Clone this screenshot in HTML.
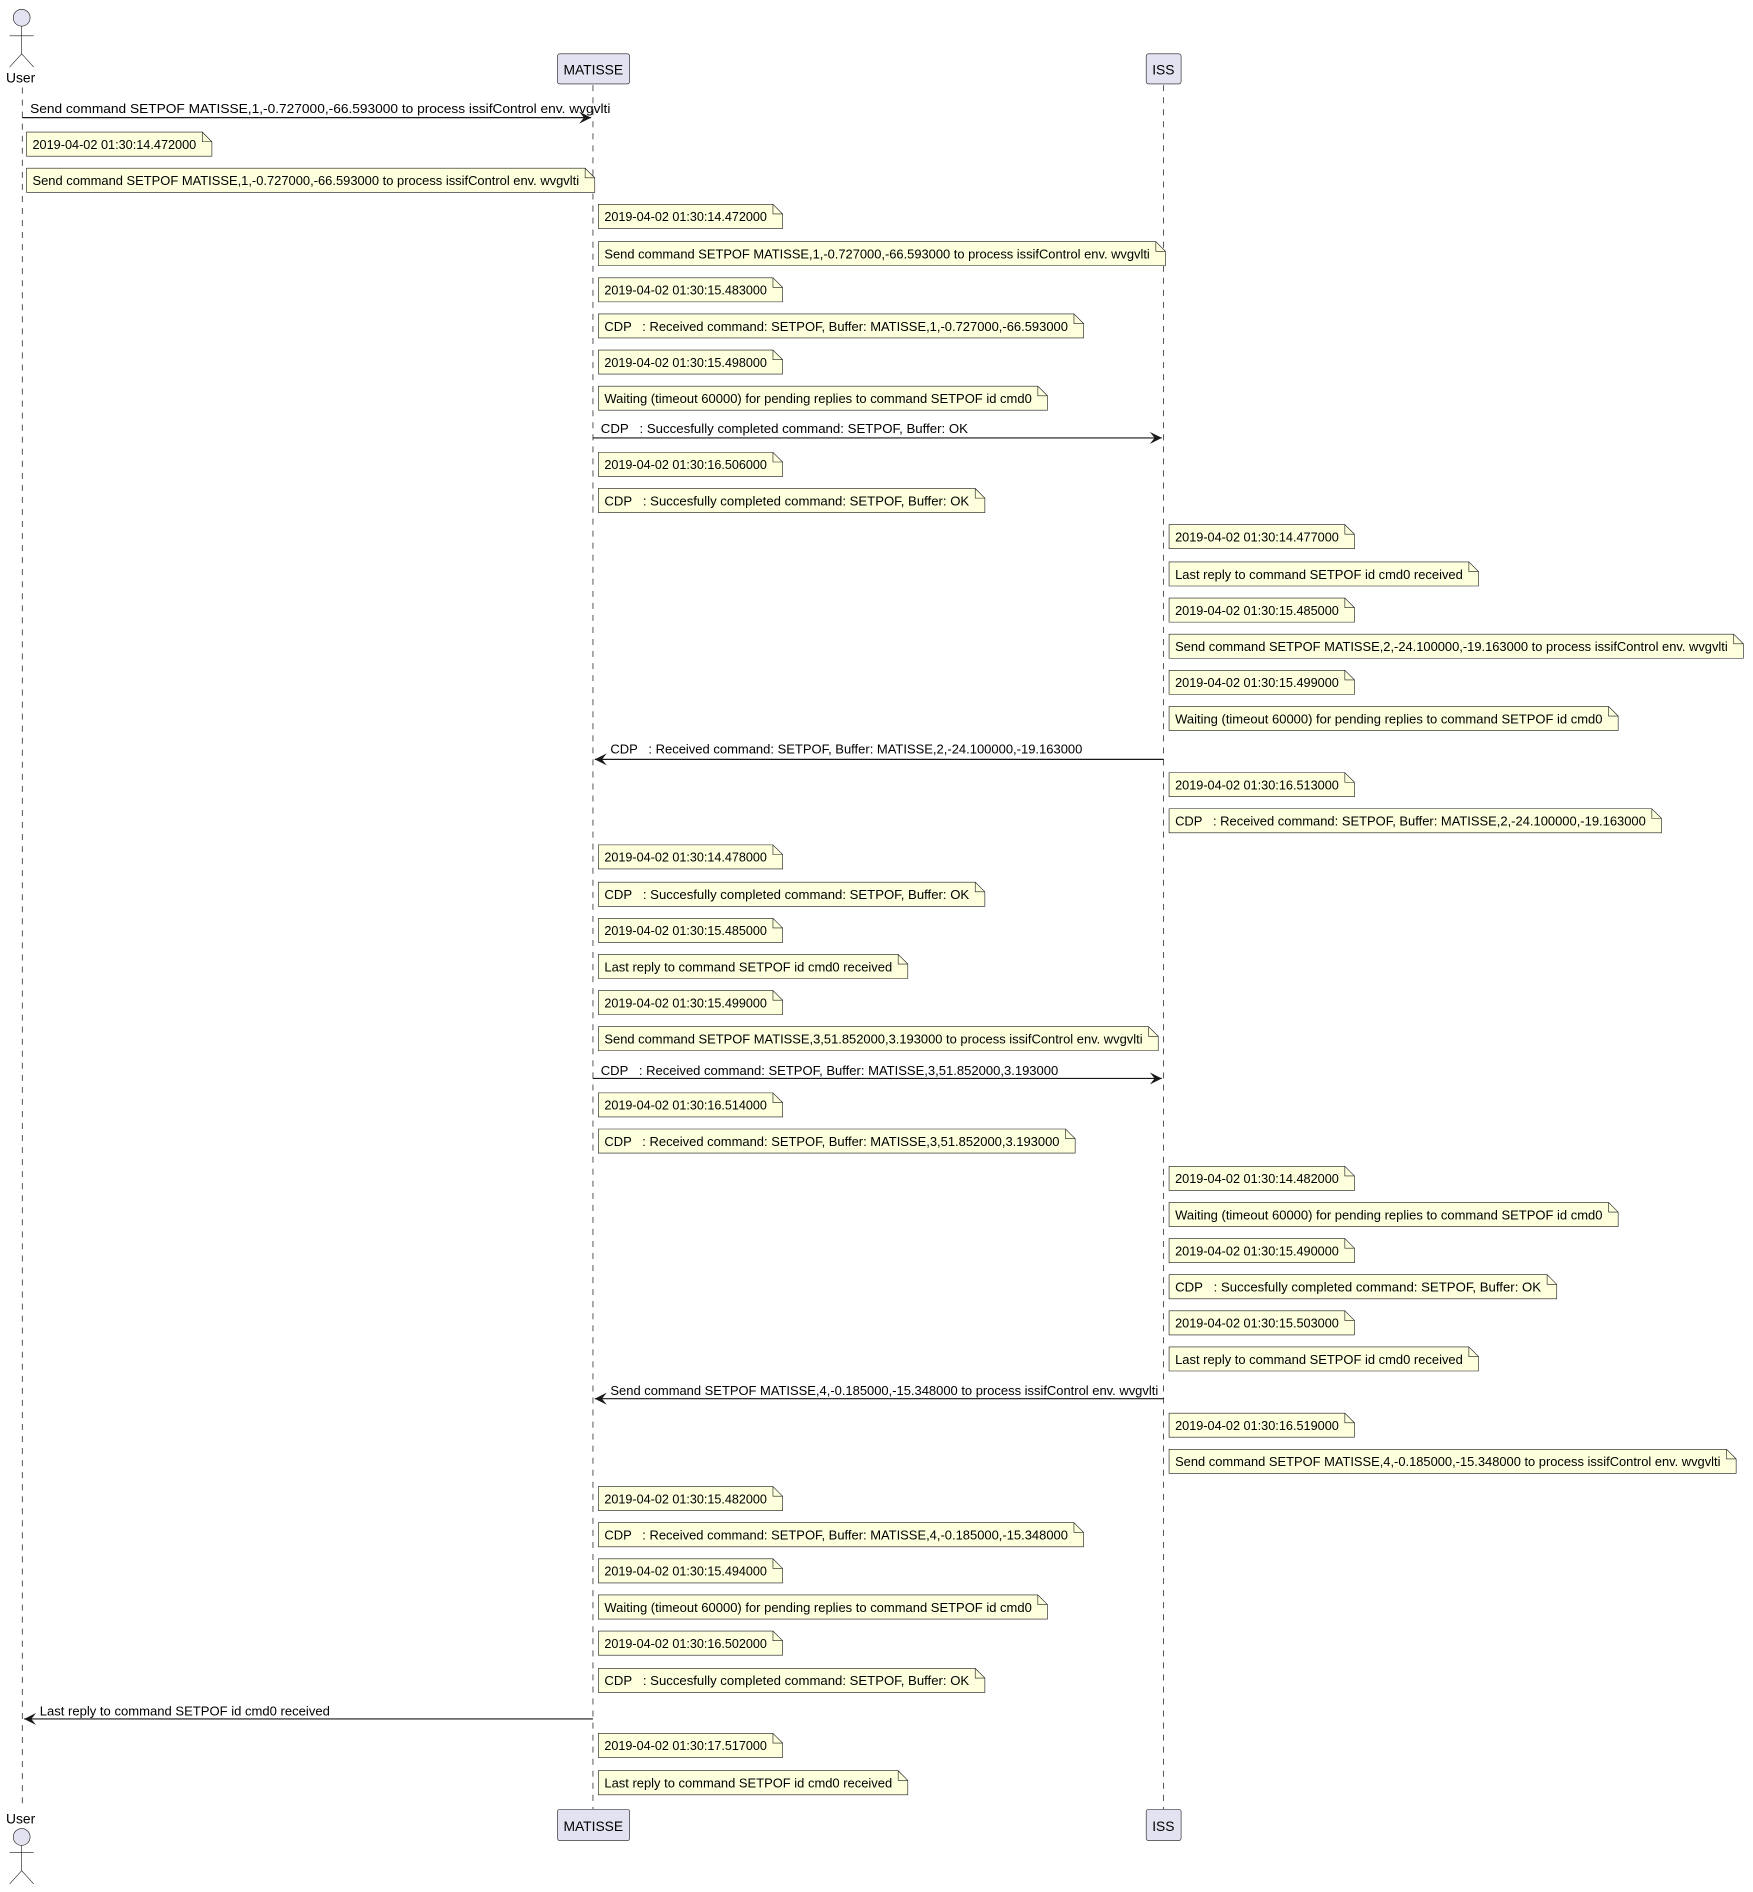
<!DOCTYPE html>
<html><head><meta charset="utf-8"><style>
html,body{margin:0;padding:0;background:#fff}
svg{display:block}
text{font-family:"Liberation Sans",sans-serif;font-size:10.5px;fill:#000;white-space:pre}
.n{fill:#FEFFDD;stroke:#181818;stroke-width:.5}
.f{fill:none;stroke:#181818;stroke-width:.5}
.ll{stroke:#181818;stroke-width:.6;stroke-dasharray:5,5}
.ar{stroke:#181818;stroke-width:1}
.p{fill:#E2E2F0;stroke:#181818;stroke-width:.5}
</style></head><body>
<svg width="1753" height="1892" viewBox="0 0 1456 1566" xmlns="http://www.w3.org/2000/svg">
<defs>
<marker id="a" viewBox="0 0 10 10" refX="10" refY="5" markerWidth="10" markerHeight="10" markerUnits="userSpaceOnUse" orient="auto"><path d="M0,0 L10,5 L0,10 L4,5 z" fill="#181818"/></marker>
</defs>
<line class="ll" x1="18.5" y1="70" x2="18.5" y2="1500"/>
<line class="ll" x1="492.5" y1="68" x2="492.5" y2="1500"/>
<line class="ll" x1="966.5" y1="68" x2="966.5" y2="1500"/>
<!-- top actor -->
<circle cx="18" cy="12" r="7" class="p"/>
<path d="M18,19 V42 M8,27 H28 M18,42 L8,53 M18,42 L28,53" class="f" stroke-width="0.8"/>
<text x="5" y="66" style="font-size:11.5px">User</text>
<rect x="463" y="42" width="60" height="25" rx="2" class="p"/><text x="468" y="59" style="font-size:11.5px">MATISSE</text>
<rect x="952" y="42" width="29" height="25" rx="2" class="p"/><text x="957" y="59" style="font-size:11.5px">ISS</text>
<!-- bottom -->
<text x="5" y="1512" style="font-size:11.5px">User</text>
<circle cx="18" cy="1523" r="7" class="p"/>
<path d="M18,1530 V1551 M8,1536 H28 M18,1551 L8,1562 M18,1551 L28,1562" class="f" stroke-width="0.8"/>
<rect x="463" y="1500" width="60" height="26" rx="2" class="p"/><text x="468" y="1518" style="font-size:11.5px">MATISSE</text>
<rect x="952" y="1500" width="29" height="26" rx="2" class="p"/><text x="957" y="1518" style="font-size:11.5px">ISS</text>

<!-- arrows -->
<line class="ar" x1="18.5" y1="95" x2="491" y2="95" marker-end="url(#a)"/>
<text x="25" y="91" textLength="482" lengthAdjust="spacingAndGlyphs">Send command SETPOF MATISSE,1,-0.727000,-66.593000 to process issifControl env. wvgvlti</text>
<line class="ar" x1="492.5" y1="361" x2="965" y2="361" marker-end="url(#a)"/>
<text x="499" y="357" textLength="305" lengthAdjust="spacingAndGlyphs">CDP   : Succesfully completed command: SETPOF, Buffer: OK</text>
<line class="ar" x1="966.5" y1="628" x2="494" y2="628" marker-end="url(#a)"/>
<text x="507" y="623" textLength="392" lengthAdjust="spacingAndGlyphs">CDP   : Received command: SETPOF, Buffer: MATISSE,2,-24.100000,-19.163000</text>
<line class="ar" x1="492.5" y1="893" x2="965" y2="893" marker-end="url(#a)"/>
<text x="499" y="890" textLength="380" lengthAdjust="spacingAndGlyphs">CDP   : Received command: SETPOF, Buffer: MATISSE,3,51.852000,3.193000</text>
<line class="ar" x1="966.5" y1="1159" x2="494" y2="1159" marker-end="url(#a)"/>
<text x="507" y="1156" textLength="455" lengthAdjust="spacingAndGlyphs">Send command SETPOF MATISSE,4,-0.185000,-15.348000 to process issifControl env. wvgvlti</text>
<line class="ar" x1="492.5" y1="1425" x2="20" y2="1425" marker-end="url(#a)"/>
<text x="33" y="1422" textLength="241" lengthAdjust="spacingAndGlyphs">Last reply to command SETPOF id cmd0 received</text>

<!-- notes: User -->
<g transform="translate(22,107)"><path class="n" d="M0,0 H146 L154,8 V20 H0 Z"/><path class="f" d="M146,0 V8 H154"/><text x="5" y="14" textLength="136" lengthAdjust="spacingAndGlyphs">2019-04-02 01:30:14.472000</text></g>
<g transform="translate(22,137)"><path class="n" d="M0,0 H464 L472,8 V20 H0 Z"/><path class="f" d="M464,0 V8 H472"/><text x="5" y="14" textLength="454" lengthAdjust="spacingAndGlyphs">Send command SETPOF MATISSE,1,-0.727000,-66.593000 to process issifControl env. wvgvlti</text></g>

<!-- MATISSE notes group 1 -->
<g transform="translate(497,167)"><path class="n" d="M0,0 H145 L153,8 V20 H0 Z"/><path class="f" d="M145,0 V8 H153"/><text x="5" y="14" textLength="135" lengthAdjust="spacingAndGlyphs">2019-04-02 01:30:14.472000</text></g>
<g transform="translate(497,198)"><path class="n" d="M0,0 H463 L471,8 V20 H0 Z"/><path class="f" d="M463,0 V8 H471"/><text x="5" y="14" textLength="453" lengthAdjust="spacingAndGlyphs">Send command SETPOF MATISSE,1,-0.727000,-66.593000 to process issifControl env. wvgvlti</text></g>
<g transform="translate(497,228)"><path class="n" d="M0,0 H145 L153,8 V20 H0 Z"/><path class="f" d="M145,0 V8 H153"/><text x="5" y="14" textLength="135" lengthAdjust="spacingAndGlyphs">2019-04-02 01:30:15.483000</text></g>
<g transform="translate(497,258)"><path class="n" d="M0,0 H395 L403,8 V20 H0 Z"/><path class="f" d="M395,0 V8 H403"/><text x="5" y="14" textLength="385" lengthAdjust="spacingAndGlyphs">CDP   : Received command: SETPOF, Buffer: MATISSE,1,-0.727000,-66.593000</text></g>
<g transform="translate(497,288)"><path class="n" d="M0,0 H145 L153,8 V20 H0 Z"/><path class="f" d="M145,0 V8 H153"/><text x="5" y="14" textLength="135" lengthAdjust="spacingAndGlyphs">2019-04-02 01:30:15.498000</text></g>
<g transform="translate(497,318)"><path class="n" d="M0,0 H365 L373,8 V20 H0 Z"/><path class="f" d="M365,0 V8 H373"/><text x="5" y="14" textLength="355" lengthAdjust="spacingAndGlyphs">Waiting (timeout 60000) for pending replies to command SETPOF id cmd0</text></g>
<g transform="translate(497,373)"><path class="n" d="M0,0 H145 L153,8 V20 H0 Z"/><path class="f" d="M145,0 V8 H153"/><text x="5" y="14" textLength="135" lengthAdjust="spacingAndGlyphs">2019-04-02 01:30:16.506000</text></g>
<g transform="translate(497,403)"><path class="n" d="M0,0 H313 L321,8 V20 H0 Z"/><path class="f" d="M313,0 V8 H321"/><text x="5" y="14" textLength="303" lengthAdjust="spacingAndGlyphs">CDP   : Succesfully completed command: SETPOF, Buffer: OK</text></g>

<!-- ISS group 1 -->
<g transform="translate(971,433)"><path class="n" d="M0,0 H146 L154,8 V20 H0 Z"/><path class="f" d="M146,0 V8 H154"/><text x="5" y="14" textLength="136" lengthAdjust="spacingAndGlyphs">2019-04-02 01:30:14.477000</text></g>
<g transform="translate(971,464)"><path class="n" d="M0,0 H249 L257,8 V20 H0 Z"/><path class="f" d="M249,0 V8 H257"/><text x="5" y="14" textLength="239" lengthAdjust="spacingAndGlyphs">Last reply to command SETPOF id cmd0 received</text></g>
<g transform="translate(971,494)"><path class="n" d="M0,0 H146 L154,8 V20 H0 Z"/><path class="f" d="M146,0 V8 H154"/><text x="5" y="14" textLength="136" lengthAdjust="spacingAndGlyphs">2019-04-02 01:30:15.485000</text></g>
<g transform="translate(971,524)"><path class="n" d="M0,0 H469 L477,8 V20 H0 Z"/><path class="f" d="M469,0 V8 H477"/><text x="5" y="14" textLength="459" lengthAdjust="spacingAndGlyphs">Send command SETPOF MATISSE,2,-24.100000,-19.163000 to process issifControl env. wvgvlti</text></g>
<g transform="translate(971,554)"><path class="n" d="M0,0 H146 L154,8 V20 H0 Z"/><path class="f" d="M146,0 V8 H154"/><text x="5" y="14" textLength="136" lengthAdjust="spacingAndGlyphs">2019-04-02 01:30:15.499000</text></g>
<g transform="translate(971,584)"><path class="n" d="M0,0 H365 L373,8 V20 H0 Z"/><path class="f" d="M365,0 V8 H373"/><text x="5" y="14" textLength="355" lengthAdjust="spacingAndGlyphs">Waiting (timeout 60000) for pending replies to command SETPOF id cmd0</text></g>
<g transform="translate(971,639)"><path class="n" d="M0,0 H146 L154,8 V20 H0 Z"/><path class="f" d="M146,0 V8 H154"/><text x="5" y="14" textLength="136" lengthAdjust="spacingAndGlyphs">2019-04-02 01:30:16.513000</text></g>
<g transform="translate(971,669)"><path class="n" d="M0,0 H401 L409,8 V20 H0 Z"/><path class="f" d="M401,0 V8 H409"/><text x="5" y="14" textLength="391" lengthAdjust="spacingAndGlyphs">CDP   : Received command: SETPOF, Buffer: MATISSE,2,-24.100000,-19.163000</text></g>

<!-- MATISSE group 2 -->
<g transform="translate(497,699)"><path class="n" d="M0,0 H145 L153,8 V20 H0 Z"/><path class="f" d="M145,0 V8 H153"/><text x="5" y="14" textLength="135" lengthAdjust="spacingAndGlyphs">2019-04-02 01:30:14.478000</text></g>
<g transform="translate(497,730)"><path class="n" d="M0,0 H313 L321,8 V20 H0 Z"/><path class="f" d="M313,0 V8 H321"/><text x="5" y="14" textLength="303" lengthAdjust="spacingAndGlyphs">CDP   : Succesfully completed command: SETPOF, Buffer: OK</text></g>
<g transform="translate(497,760)"><path class="n" d="M0,0 H145 L153,8 V20 H0 Z"/><path class="f" d="M145,0 V8 H153"/><text x="5" y="14" textLength="135" lengthAdjust="spacingAndGlyphs">2019-04-02 01:30:15.485000</text></g>
<g transform="translate(497,790)"><path class="n" d="M0,0 H249 L257,8 V20 H0 Z"/><path class="f" d="M249,0 V8 H257"/><text x="5" y="14" textLength="239" lengthAdjust="spacingAndGlyphs">Last reply to command SETPOF id cmd0 received</text></g>
<g transform="translate(497,820)"><path class="n" d="M0,0 H145 L153,8 V20 H0 Z"/><path class="f" d="M145,0 V8 H153"/><text x="5" y="14" textLength="135" lengthAdjust="spacingAndGlyphs">2019-04-02 01:30:15.499000</text></g>
<g transform="translate(497,850)"><path class="n" d="M0,0 H457 L465,8 V20 H0 Z"/><path class="f" d="M457,0 V8 H465"/><text x="5" y="14" textLength="447" lengthAdjust="spacingAndGlyphs">Send command SETPOF MATISSE,3,51.852000,3.193000 to process issifControl env. wvgvlti</text></g>
<g transform="translate(497,905)"><path class="n" d="M0,0 H145 L153,8 V20 H0 Z"/><path class="f" d="M145,0 V8 H153"/><text x="5" y="14" textLength="135" lengthAdjust="spacingAndGlyphs">2019-04-02 01:30:16.514000</text></g>
<g transform="translate(497,935)"><path class="n" d="M0,0 H388 L396,8 V20 H0 Z"/><path class="f" d="M388,0 V8 H396"/><text x="5" y="14" textLength="378" lengthAdjust="spacingAndGlyphs">CDP   : Received command: SETPOF, Buffer: MATISSE,3,51.852000,3.193000</text></g>

<!-- ISS group 2 -->
<g transform="translate(971,966)"><path class="n" d="M0,0 H146 L154,8 V20 H0 Z"/><path class="f" d="M146,0 V8 H154"/><text x="5" y="14" textLength="136" lengthAdjust="spacingAndGlyphs">2019-04-02 01:30:14.482000</text></g>
<g transform="translate(971,996)"><path class="n" d="M0,0 H365 L373,8 V20 H0 Z"/><path class="f" d="M365,0 V8 H373"/><text x="5" y="14" textLength="355" lengthAdjust="spacingAndGlyphs">Waiting (timeout 60000) for pending replies to command SETPOF id cmd0</text></g>
<g transform="translate(971,1026)"><path class="n" d="M0,0 H146 L154,8 V20 H0 Z"/><path class="f" d="M146,0 V8 H154"/><text x="5" y="14" textLength="136" lengthAdjust="spacingAndGlyphs">2019-04-02 01:30:15.490000</text></g>
<g transform="translate(971,1056)"><path class="n" d="M0,0 H314 L322,8 V20 H0 Z"/><path class="f" d="M314,0 V8 H322"/><text x="5" y="14" textLength="304" lengthAdjust="spacingAndGlyphs">CDP   : Succesfully completed command: SETPOF, Buffer: OK</text></g>
<g transform="translate(971,1086)"><path class="n" d="M0,0 H146 L154,8 V20 H0 Z"/><path class="f" d="M146,0 V8 H154"/><text x="5" y="14" textLength="136" lengthAdjust="spacingAndGlyphs">2019-04-02 01:30:15.503000</text></g>
<g transform="translate(971,1116)"><path class="n" d="M0,0 H249 L257,8 V20 H0 Z"/><path class="f" d="M249,0 V8 H257"/><text x="5" y="14" textLength="239" lengthAdjust="spacingAndGlyphs">Last reply to command SETPOF id cmd0 received</text></g>
<g transform="translate(971,1171)"><path class="n" d="M0,0 H146 L154,8 V20 H0 Z"/><path class="f" d="M146,0 V8 H154"/><text x="5" y="14" textLength="136" lengthAdjust="spacingAndGlyphs">2019-04-02 01:30:16.519000</text></g>
<g transform="translate(971,1201)"><path class="n" d="M0,0 H463 L471,8 V20 H0 Z"/><path class="f" d="M463,0 V8 H471"/><text x="5" y="14" textLength="453" lengthAdjust="spacingAndGlyphs">Send command SETPOF MATISSE,4,-0.185000,-15.348000 to process issifControl env. wvgvlti</text></g>

<!-- MATISSE group 3 -->
<g transform="translate(497,1232)"><path class="n" d="M0,0 H145 L153,8 V20 H0 Z"/><path class="f" d="M145,0 V8 H153"/><text x="5" y="14" textLength="135" lengthAdjust="spacingAndGlyphs">2019-04-02 01:30:15.482000</text></g>
<g transform="translate(497,1262)"><path class="n" d="M0,0 H395 L403,8 V20 H0 Z"/><path class="f" d="M395,0 V8 H403"/><text x="5" y="14" textLength="385" lengthAdjust="spacingAndGlyphs">CDP   : Received command: SETPOF, Buffer: MATISSE,4,-0.185000,-15.348000</text></g>
<g transform="translate(497,1292)"><path class="n" d="M0,0 H145 L153,8 V20 H0 Z"/><path class="f" d="M145,0 V8 H153"/><text x="5" y="14" textLength="135" lengthAdjust="spacingAndGlyphs">2019-04-02 01:30:15.494000</text></g>
<g transform="translate(497,1322)"><path class="n" d="M0,0 H365 L373,8 V20 H0 Z"/><path class="f" d="M365,0 V8 H373"/><text x="5" y="14" textLength="355" lengthAdjust="spacingAndGlyphs">Waiting (timeout 60000) for pending replies to command SETPOF id cmd0</text></g>
<g transform="translate(497,1352)"><path class="n" d="M0,0 H145 L153,8 V20 H0 Z"/><path class="f" d="M145,0 V8 H153"/><text x="5" y="14" textLength="135" lengthAdjust="spacingAndGlyphs">2019-04-02 01:30:16.502000</text></g>
<g transform="translate(497,1383)"><path class="n" d="M0,0 H313 L321,8 V20 H0 Z"/><path class="f" d="M313,0 V8 H321"/><text x="5" y="14" textLength="303" lengthAdjust="spacingAndGlyphs">CDP   : Succesfully completed command: SETPOF, Buffer: OK</text></g>
<g transform="translate(497,1437)"><path class="n" d="M0,0 H145 L153,8 V20 H0 Z"/><path class="f" d="M145,0 V8 H153"/><text x="5" y="14" textLength="135" lengthAdjust="spacingAndGlyphs">2019-04-02 01:30:17.517000</text></g>
<g transform="translate(497,1468)"><path class="n" d="M0,0 H249 L257,8 V20 H0 Z"/><path class="f" d="M249,0 V8 H257"/><text x="5" y="14" textLength="239" lengthAdjust="spacingAndGlyphs">Last reply to command SETPOF id cmd0 received</text></g>
</svg>
</body></html>
